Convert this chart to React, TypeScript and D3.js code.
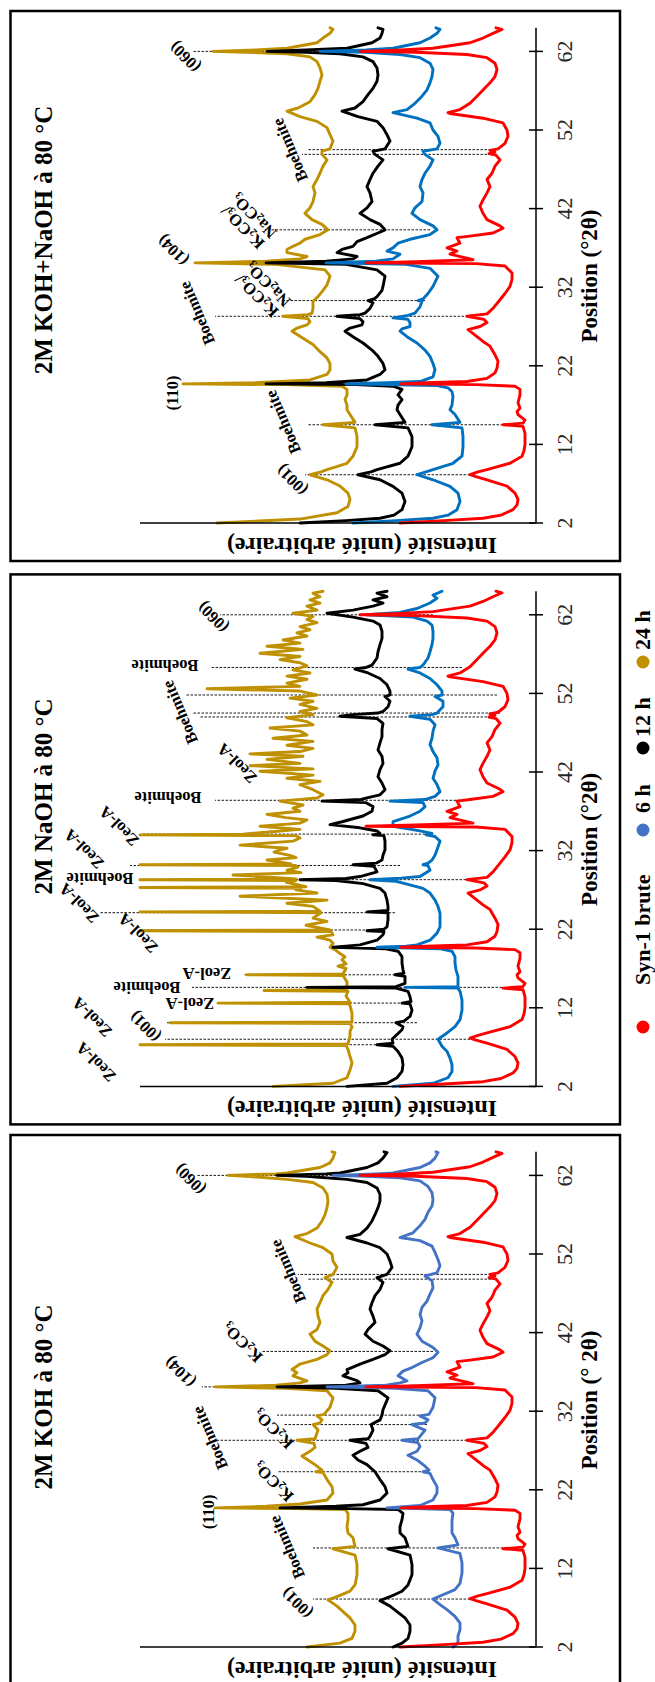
import React from 'react';
import * as d3 from 'd3';

type Pt = [number, number];

const TICKS = [2, 12, 22, 32, 42, 52, 62];
const LEGEND_NAMES = ['Syn-1 brute', '6 h', '12 h', '24 h'];
const I_MAX = 396;

// Syn-1 brute (same raw sample in the three panels)
const syn1Brute: Pt[] = [[2.0,136],[2.3,92],[2.6,53],[3.0,35],[3.7,23],[4.3,19],[5.0,18],[5.8,21],[6.7,29],[7.5,49],[7.9,60],[8.14,66],[8.5,58],[8.8,49],[9.6,26],[10.5,14],[11.2,12],[12.0,11],[13.4,11],[14.3,13],[14.5,33],[14.7,13],[15.1,11],[15.8,18],[16.2,19],[16.6,16],[17.3,18],[18.3,16],[19.0,16],[19.4,21],[19.6,60],[19.7,135],[19.85,110],[20.0,69],[20.4,49],[21.1,41],[21.7,39],[22.6,38],[23.4,41],[24.5,46],[25.1,53],[25.7,59],[26.4,66],[26.6,68],[27.0,56],[27.5,49],[27.9,52],[28.3,69],[28.6,49],[29.3,43],[30.4,36],[31.2,31],[32.1,26],[33.0,24],[33.8,24],[34.7,31],[35.0,60],[35.1,170],[35.25,120],[35.5,63],[36.2,86],[36.6,79],[37.0,89],[37.6,76],[38.3,79],[38.5,66],[38.9,43],[39.5,33],[39.8,36],[40.6,49],[41.4,53],[42.3,56],[43.1,53],[44.0,49],[44.8,46],[45.7,49],[46.5,44],[47.4,41],[48.2,36],[48.8,40],[49.0,47],[49.2,41],[49.4,46],[49.6,38],[50.3,31],[51.2,28],[52.0,29],[52.9,33],[53.5,53],[54.1,86],[54.2,88],[54.6,76],[55.4,66],[56.3,59],[57.1,53],[58.0,46],[58.8,41],[59.7,39],[60.5,41],[61.2,49],[61.6,69],[61.9,120],[62.0,176],[62.15,140],[62.4,103],[63.1,66],[63.7,53],[64.3,43],[64.8,34],[65.0,40]];

// 2M KOH+NaOH
const mix6h: Pt[] = [[2.0,183],[2.3,140],[2.6,103],[3.0,88],[3.7,79],[4.75,76],[5.8,78],[6.66,86],[7.5,103],[8.14,119],[8.5,110],[8.8,103],[9.6,83],[10.5,74],[11.7,73],[13.0,73],[14.1,74],[14.5,104],[14.8,76],[15.8,81],[16.4,86],[17.0,84],[18.1,83],[18.7,84],[19.2,88],[19.5,100],[19.7,190],[19.85,150],[20.0,116],[20.6,103],[21.5,101],[22.3,103],[23.2,106],[24.0,111],[24.9,119],[25.7,129],[26.4,136],[26.7,134],[27.0,126],[27.5,126],[27.9,128],[28.1,143],[28.4,128],[28.7,121],[29.5,116],[30.2,114],[30.3,118],[30.5,113],[31.2,108],[32.1,103],[33.4,98],[34.4,106],[34.9,130],[35.1,210],[35.3,160],[35.6,143],[36.2,136],[36.6,149],[37.0,143],[37.6,138],[38.1,126],[38.7,106],[39.3,99],[39.8,103],[40.6,116],[41.4,124],[42.1,121],[42.9,114],[44.0,113],[44.8,116],[45.7,114],[46.5,111],[47.4,106],[48.2,103],[48.9,111],[49.3,113],[49.6,99],[50.3,96],[51.2,98],[52.0,103],[52.9,106],[53.5,119],[54.2,143],[54.6,129],[55.4,121],[56.3,114],[57.1,109],[58.0,106],[58.8,104],[59.7,103],[60.5,106],[61.2,116],[61.6,136],[61.9,170],[62.0,216],[62.2,170],[62.4,143],[63.1,116],[63.7,106],[64.3,99],[64.8,96],[65.0,100]];
const mix12h: Pt[] = [[2.0,236],[2.3,190],[2.6,156],[3.0,142],[3.7,134],[4.75,131],[5.8,134],[6.66,143],[7.5,156],[8.14,178],[8.5,165],[8.8,159],[9.6,136],[10.5,128],[11.7,124],[13.0,124],[14.1,128],[14.5,161],[14.8,131],[15.8,136],[16.4,139],[17.0,138],[17.7,134],[18.3,138],[19.0,134],[19.4,143],[19.6,180],[19.7,270],[19.85,210],[20.2,169],[20.9,156],[21.5,151],[22.3,153],[23.2,158],[24.0,164],[24.9,173],[25.7,183],[26.4,191],[26.8,186],[27.2,174],[27.6,173],[28.0,176],[28.3,199],[28.5,176],[28.7,171],[29.3,166],[30.0,163],[30.3,168],[30.5,162],[30.8,159],[31.6,154],[32.1,153],[33.4,151],[34.2,159],[34.9,190],[35.1,270],[35.3,210],[35.6,183],[35.9,179],[36.4,199],[36.8,194],[37.2,183],[37.8,179],[38.3,169],[38.9,158],[39.3,151],[40.0,156],[40.6,166],[41.4,176],[42.1,169],[42.9,164],[44.0,166],[44.8,169],[45.7,166],[46.5,163],[47.4,158],[48.2,153],[48.9,161],[49.3,163],[49.6,151],[50.6,146],[51.4,149],[52.3,153],[53.1,159],[53.7,178],[54.4,194],[54.8,181],[55.6,173],[56.5,168],[57.3,163],[58.2,159],[59.0,158],[59.9,159],[60.7,163],[61.3,173],[61.7,196],[61.9,230],[62.0,269],[62.2,230],[62.4,189],[63.1,164],[63.7,156],[64.3,154],[64.8,153],[65.0,158]];
const mix24h: Pt[] = [[2.0,319],[2.5,236],[3.3,199],[4.1,188],[5.0,186],[5.8,188],[6.7,196],[7.5,209],[8.14,226],[8.5,215],[8.8,209],[9.6,189],[10.5,183],[11.7,179],[13.0,179],[14.1,181],[14.5,213],[14.8,181],[15.8,186],[16.4,189],[17.0,189],[17.7,191],[18.3,189],[19.0,189],[19.4,194],[19.6,250],[19.7,353],[19.85,280],[20.2,226],[20.9,209],[21.5,206],[22.3,206],[23.0,209],[23.8,216],[24.7,223],[25.5,233],[26.4,244],[26.8,239],[27.2,229],[27.6,226],[28.0,228],[28.3,253],[28.5,228],[28.7,224],[29.3,223],[30.2,223],[30.8,218],[31.6,213],[32.3,209],[33.4,206],[34.2,211],[34.9,260],[35.1,341],[35.3,270],[35.6,236],[35.9,229],[36.4,249],[36.8,249],[37.2,243],[37.6,236],[38.1,231],[38.7,216],[39.3,208],[40.0,214],[40.6,224],[41.4,231],[42.1,226],[42.9,223],[44.0,221],[44.8,223],[45.7,219],[46.5,216],[47.4,213],[48.2,209],[48.9,214],[49.3,214],[49.6,206],[50.6,203],[51.4,206],[52.3,209],[53.1,219],[53.7,236],[54.4,249],[54.8,238],[55.6,226],[56.5,221],[57.3,218],[58.2,216],[59.0,214],[59.9,216],[60.7,219],[61.3,226],[61.7,249],[61.9,290],[62.0,323],[62.2,280],[62.4,249],[63.1,219],[63.7,213],[64.3,206],[64.8,203],[65.0,206]];

// 2M NaOH
const naoh6h: Pt[] = [[2.0,143],[2.4,103],[3.1,88],[3.9,84],[4.75,84],[5.6,86],[6.45,89],[7.1,94],[8.0,98],[8.8,89],[9.6,81],[10.5,76],[11.7,74],[13.0,74],[14.1,76],[14.5,78],[14.6,131],[14.7,78],[16.0,78],[16.8,80],[17.7,81],[18.5,81],[19.2,84],[19.5,95],[19.7,159],[19.85,130],[20.0,119],[20.6,106],[21.5,99],[22.3,96],[23.2,96],[24.0,96],[24.9,98],[25.7,101],[26.6,106],[27.2,113],[27.8,131],[28.1,140],[28.3,166],[28.5,135],[28.7,116],[29.5,106],[30.1,108],[30.2,113],[30.4,108],[30.8,104],[31.4,101],[32.1,99],[33.2,96],[33.8,101],[34.0,110],[34.2,104],[34.5,116],[35.1,143],[35.7,143],[36.4,126],[37.0,116],[37.6,111],[38.1,113],[38.3,146],[38.5,111],[38.9,101],[39.5,96],[40.4,99],[41.2,103],[42.1,101],[42.9,98],[43.8,99],[44.6,103],[45.5,106],[46.3,104],[47.2,103],[48.0,101],[48.7,106],[49.1,126],[49.3,104],[49.5,99],[50.3,93],[51.0,93],[51.6,101],[51.8,94],[52.3,94],[53.1,99],[53.9,106],[54.6,116],[55.1,128],[55.3,116],[55.6,113],[56.5,108],[57.3,106],[58.2,104],[59.0,103],[59.9,103],[60.7,104],[61.2,109],[61.7,123],[62.0,169],[62.3,136],[62.8,119],[63.5,106],[64.1,99],[64.5,103],[65.0,94]];
const naoh12h: Pt[] = [[2.0,189],[2.4,149],[3.1,139],[3.9,134],[4.75,133],[5.6,134],[6.45,138],[7.1,143],[7.3,159],[7.5,143],[8.0,144],[8.6,139],[9.2,134],[9.6,133],[10.1,140],[10.3,132],[10.9,126],[11.7,124],[12.5,126],[12.6,134],[12.8,125],[13.4,126],[14.1,128],[14.5,140],[14.6,229],[14.7,140],[15.1,131],[16.0,131],[16.2,141],[16.4,132],[16.8,133],[17.7,134],[18.5,134],[19.2,138],[19.5,150],[19.7,203],[19.85,190],[20.0,176],[20.6,159],[21.3,153],[21.7,152],[21.8,169],[22.0,152],[22.3,149],[23.2,148],[24.1,148],[24.2,169],[24.4,148],[24.9,148],[25.7,149],[26.6,151],[27.2,156],[27.8,173],[28.2,200],[28.3,236],[28.45,190],[28.7,176],[29.3,159],[30.0,162],[30.2,183],[30.4,160],[30.8,154],[31.4,153],[32.1,151],[33.2,151],[33.9,152],[34.0,163],[34.2,156],[34.5,159],[34.9,176],[35.3,206],[35.7,193],[36.4,173],[37.0,164],[37.6,163],[38.1,170],[38.3,214],[38.5,175],[38.7,169],[39.1,156],[39.75,151],[40.6,154],[41.4,158],[42.3,156],[43.1,153],[44.0,154],[44.8,158],[45.7,156],[46.5,154],[47.4,154],[48.2,153],[48.8,159],[49.1,196],[49.3,183],[49.5,158],[49.7,153],[50.3,148],[51.0,146],[51.6,151],[51.8,146],[52.3,146],[53.1,149],[53.9,156],[54.6,168],[55.1,181],[55.3,170],[55.6,164],[56.5,159],[57.3,158],[58.2,156],[59.0,154],[59.9,154],[60.7,156],[61.2,163],[61.7,183],[62.2,209],[62.6,183],[63.1,163],[63.5,153],[63.9,163],[64.3,149],[64.75,159],[65.0,149]];
const naoh24h: Pt[] = [[2.0,263],[2.4,203],[3.1,189],[4.1,186],[5.0,184],[5.8,186],[6.7,188],[7.2,190],[7.3,396],[7.4,188],[8.35,186],[9.0,186],[9.6,184],[10.0,186],[10.1,366],[10.2,184],[11.3,184],[12.3,186],[12.5,187],[12.6,318],[12.7,186],[13.5,190],[14.1,188],[14.2,272],[14.3,190],[14.8,189],[15.3,189],[15.9,192],[16.1,192],[16.2,289],[16.3,193],[17.0,190],[17.3,198],[17.6,190],[18.1,194],[18.5,191],[18.9,196],[19.4,201],[19.7,206],[20.2,203],[20.6,206],[21.0,219],[21.3,203],[21.7,205],[21.8,396],[21.9,206],[22.5,230],[23.0,209],[23.4,223],[24.1,215],[24.2,396],[24.3,216],[24.9,223],[25.3,249],[25.7,209],[26.2,296],[26.6,219],[27.0,240],[27.2,235],[27.3,396],[27.4,230],[28.0,250],[28.2,240],[28.3,396],[28.4,240],[28.9,303],[29.2,235],[29.5,249],[29.9,238],[30.1,240],[30.2,396],[30.3,245],[30.8,269],[31.1,240],[31.4,246],[31.8,262],[32.1,256],[32.3,249],[32.7,296],[33.2,243],[33.6,236],[33.9,240],[34.0,396],[34.1,293],[34.7,236],[35.1,276],[35.5,236],[35.9,229],[36.2,250],[36.6,269],[37.0,236],[37.4,243],[37.8,233],[38.3,256],[38.7,219],[39.1,213],[39.75,223],[40.4,236],[40.8,216],[41.2,249],[41.6,223],[42.1,276],[42.4,223],[42.8,286],[43.1,236],[43.6,269],[44.0,233],[44.3,286],[44.6,236],[45.0,223],[45.4,249],[45.9,223],[46.3,263],[46.7,229],[47.2,236],[47.6,266],[48.0,223],[48.4,229],[48.9,249],[49.3,223],[49.7,236],[50.1,219],[50.6,236],[51.0,223],[51.4,246],[51.8,219],[52.3,236],[52.6,329],[52.9,236],[53.3,249],[53.8,229],[54.2,249],[54.6,226],[55.0,243],[55.5,229],[55.9,236],[56.3,256],[56.7,236],[57.1,276],[57.6,233],[58.0,269],[58.4,236],[58.8,253],[59.3,229],[59.7,239],[60.1,226],[60.5,236],[61.0,219],[61.4,229],[61.8,223],[62.2,243],[62.6,219],[63.1,229],[63.5,216],[63.9,226],[64.3,216],[64.75,223],[65.0,213]];

// 2M KOH
const koh6h: Pt[] = [[2.0,83],[2.5,78],[3.4,78],[4.2,76],[5.05,76],[5.9,81],[6.75,89],[7.4,96],[8.1,103],[8.65,93],[9.3,81],[10.1,76],[11.4,74],[12.7,74],[13.9,76],[14.6,98],[15.0,78],[15.9,81],[16.5,84],[17.3,84],[18.2,84],[19.0,83],[19.5,86],[19.6,120],[19.7,149],[20.0,116],[20.7,103],[21.6,99],[22.4,99],[23.3,103],[24.1,106],[24.3,113],[24.5,107],[25.0,111],[25.8,119],[26.4,128],[26.9,119],[27.5,116],[28.0,118],[28.3,134],[28.5,118],[28.8,116],[29.6,111],[30.3,124],[30.5,111],[30.9,108],[31.4,116],[31.6,107],[32.5,103],[33.7,101],[34.6,108],[34.9,140],[35.1,209],[35.3,150],[35.6,136],[35.85,129],[36.5,138],[37.1,133],[37.55,124],[38.2,114],[38.8,103],[39.5,98],[40.1,103],[40.9,114],[41.8,119],[42.6,116],[43.5,114],[44.3,116],[45.2,114],[46.0,109],[46.9,106],[47.7,103],[48.6,104],[49.2,111],[49.6,99],[50.5,96],[51.3,98],[52.2,101],[53.0,104],[53.7,116],[54.1,136],[54.7,123],[55.6,116],[56.4,111],[57.3,108],[58.1,104],[58.9,103],[59.8,104],[60.6,108],[61.3,116],[61.7,136],[61.9,170],[62.0,203],[62.2,160],[62.3,143],[63.0,116],[63.6,106],[64.2,101],[64.9,98],[65.0,100]];
const koh12h: Pt[] = [[2.0,143],[2.5,134],[3.1,128],[4.0,126],[4.8,126],[5.7,131],[6.5,139],[7.2,146],[7.9,156],[8.4,146],[9.1,134],[9.9,128],[11.2,124],[12.5,124],[13.7,126],[14.5,148],[14.8,128],[15.9,131],[16.5,136],[17.3,136],[18.2,134],[19.0,133],[19.5,138],[19.6,190],[19.7,256],[19.9,200],[20.1,173],[20.7,156],[21.6,149],[22.4,151],[23.3,156],[24.3,161],[25.2,169],[25.8,178],[26.4,183],[26.9,176],[27.4,168],[27.9,170],[28.3,186],[28.5,168],[28.8,166],[29.6,163],[30.3,165],[30.9,156],[31.5,154],[32.2,153],[33.7,148],[34.6,158],[34.9,200],[35.1,259],[35.3,190],[35.6,176],[35.9,179],[36.5,193],[36.9,188],[37.3,189],[38.0,176],[38.6,163],[39.2,151],[39.7,146],[40.3,153],[40.9,163],[41.8,171],[42.4,168],[43.3,161],[44.1,163],[45.0,166],[45.8,164],[46.7,161],[47.5,156],[48.4,153],[49.0,159],[49.4,149],[50.3,144],[51.1,146],[52.0,149],[52.8,156],[53.4,169],[54.1,189],[54.5,176],[55.3,169],[56.2,164],[57.0,161],[57.9,158],[58.7,156],[59.6,156],[60.4,159],[61.1,169],[61.5,189],[61.9,230],[62.0,259],[62.2,210],[62.3,196],[63.0,169],[63.6,158],[64.2,153],[64.9,149],[65.0,152]];
const koh24h: Pt[] = [[2.0,229],[2.5,196],[3.1,184],[4.0,181],[4.8,181],[5.7,186],[6.5,193],[7.2,199],[8.0,208],[8.4,199],[9.1,186],[9.9,181],[11.2,179],[12.5,179],[13.7,181],[14.5,203],[14.8,181],[15.9,183],[16.5,188],[17.3,189],[18.2,188],[19.0,188],[19.5,191],[19.6,240],[19.7,321],[19.9,270],[20.2,236],[20.7,209],[21.6,203],[22.4,204],[23.3,209],[24.2,213],[24.3,220],[24.5,214],[25.2,221],[25.8,228],[26.3,234],[26.9,226],[27.4,221],[27.9,222],[28.3,239],[28.5,221],[29.6,218],[30.3,223],[30.5,216],[30.9,214],[31.4,219],[31.6,212],[32.5,206],[33.7,203],[34.6,209],[34.9,250],[35.1,321],[35.3,260],[35.6,236],[35.85,229],[36.5,243],[36.9,239],[37.3,244],[38.0,236],[38.6,219],[39.2,209],[39.7,206],[40.3,213],[40.9,221],[41.8,226],[42.4,219],[43.3,216],[44.1,218],[45.0,219],[45.8,216],[46.7,213],[47.5,208],[48.4,204],[49.0,211],[49.4,203],[50.3,199],[51.1,203],[52.0,204],[52.8,213],[53.4,226],[54.2,241],[54.6,229],[55.3,219],[56.2,214],[57.0,211],[57.9,209],[58.7,208],[59.6,209],[60.4,213],[61.1,223],[61.5,249],[61.9,290],[62.0,308],[62.2,260],[62.3,249],[63.0,216],[63.6,206],[64.2,203],[64.9,201],[65.0,204]];

type Lab = { text: string[]; t: number; v: number; o: 'diag' | 'vert' | 'slant' | 'flip'; chem?: boolean };

const mixLabels: Lab[] = [
  { text: ['(001)'], t: 7.47, v: 244, o: 'diag' },
  { text: ['Boehmite'], t: 14.85, v: 253, o: 'slant' },
  { text: ['(110)'], t: 18.54, v: 364, o: 'vert' },
  { text: ['Boehmite'], t: 28.7, v: 339, o: 'slant' },
  { text: ['K2CO3/', 'Na2CO3'], t: 31.6, v: 274, o: 'diag', chem: true },
  { text: ['(104)'], t: 36.7, v: 363, o: 'diag' },
  { text: ['K2CO3/', 'Na2CO3'], t: 40.3, v: 288, o: 'diag', chem: true },
  { text: ['Boehmite'], t: 49.45, v: 246, o: 'slant' },
  { text: ['(060)'], t: 61.3, v: 351, o: 'diag' },
];
const mixGuides: [number, number, number][] = [[8.14,66,231],[14.5,21,229],[28.3,68,321],[30.3,111,254],[35.1,136,341],[39.3,106,271],[48.9,41,234],[49.5,41,228],[62.0,136,344]];

const naohLabels: Lab[] = [
  { text: ['Zeol-A'], t: 5.1, v: 440, o: 'diag' },
  { text: ['(001)'], t: 9.6, v: 391, o: 'diag' },
  { text: ['Zeol-A'], t: 10.8, v: 444, o: 'diag' },
  { text: ['Zeol-A'], t: 12.5, v: 346, o: 'flip' },
  { text: ['Boehmite'], t: 14.6, v: 389, o: 'flip' },
  { text: ['Zeol-A'], t: 16.4, v: 329, o: 'flip' },
  { text: ['Zeol-A'], t: 21.5, v: 398, o: 'diag' },
  { text: ['Zeol-A'], t: 25.3, v: 457, o: 'diag' },
  { text: ['Boehmite'], t: 28.4, v: 436, o: 'flip' },
  { text: ['Zeol-A'], t: 32.2, v: 452, o: 'diag' },
  { text: ['Zeol-A'], t: 35.1, v: 417, o: 'diag' },
  { text: ['Boehmite'], t: 38.7, v: 368, o: 'flip' },
  { text: ['Zeol-A'], t: 43.1, v: 299, o: 'diag' },
  { text: ['Boehmite'], t: 49.6, v: 356, o: 'slant' },
  { text: ['Boehmite'], t: 55.5, v: 371, o: 'flip' },
  { text: ['(060)'], t: 61.7, v: 323, o: 'diag' },
];
const naohGuides: [number, number, number][] = [[7.3,156,396],[8.0,66,371],[10.1,119,369],[12.6,136,316],[14.6,34,344],[16.2,141,293],[21.9,163,389],[24.1,141,436],[28.3,66,391],[30.1,136,406],[34.1,103,393],[38.4,68,321],[49.0,41,336],[49.5,36,343],[51.8,39,351],[55.3,74,326],[62.0,103,316]];

const kohLabels: Lab[] = [
  { text: ['(001)'], t: 7.6, v: 239, o: 'diag' },
  { text: ['Boehmite'], t: 14.7, v: 249, o: 'slant' },
  { text: ['(110)'], t: 19.2, v: 328, o: 'vert' },
  { text: ['K2CO3'], t: 23.0, v: 263, o: 'diag', chem: true },
  { text: ['Boehmite'], t: 28.6, v: 326, o: 'slant' },
  { text: ['K2CO3'], t: 29.7, v: 263, o: 'diag', chem: true },
  { text: ['(104)'], t: 37.0, v: 356, o: 'diag' },
  { text: ['K2CO3'], t: 40.7, v: 294, o: 'diag', chem: true },
  { text: ['Boehmite'], t: 49.8, v: 248, o: 'slant' },
  { text: ['(060)'], t: 61.5, v: 346, o: 'diag' },
];
const kohGuides: [number, number, number][] = [[8.1,66,223],[14.6,13,223],[24.3,111,258],[28.3,69,319],[30.3,109,253],[31.5,109,259],[35.1,129,334],[39.6,103,274],[48.8,41,229],[49.4,41,238],[62.0,136,339]];

const RED = '#FF0000', BLUE = '#0070C0', BLUE2 = '#4472C4', BLACK = '#000000', GOLD = '#BF9000';
const ANGLE: Record<string, number> = { diag: -135, vert: -90, slant: -113, flip: 180 };
const FONT = "'Liberation Serif', 'Times New Roman', serif";

const panels = [
  { title: '2M KOH+NaOH à 80 °C', xlabel: 'Position (°2θ)', oy: 0, titleY: 240, series: [mix24h, mix12h, mix6h, syn1Brute], colors: [GOLD, BLACK, BLUE, RED], labels: mixLabels, guides: mixGuides },
  { title: '2M NaOH à 80 °C', xlabel: 'Position (°2θ)', oy: 563.4, titleY: 233, series: [naoh24h, naoh12h, naoh6h, syn1Brute], colors: [GOLD, BLACK, BLUE, RED], labels: naohLabels, guides: naohGuides },
  { title: '2M KOH à 80 °C', xlabel: 'Position (° 2θ)', oy: 1124, titleY: 273, series: [koh24h, koh12h, koh6h, syn1Brute], colors: [GOLD, BLACK, BLUE2, RED], labels: kohLabels, guides: kohGuides },
];

function Chem({ s }: { s: string }) {
  const parts = s.split(/(\d)/).filter((p) => p !== '');
  let sub = false;
  return (
    <>
      {parts.map((p, i) => {
        const isDigit = /^\d$/.test(p);
        let dy = 0;
        if (isDigit && !sub) dy = 4;
        if (!isDigit && sub) dy = -4;
        sub = isDigit;
        return (
          <tspan key={i} dy={dy} fontSize={isDigit ? 11 : undefined}>{p}</tspan>
        );
      })}
    </>
  );
}

export default function App() {
  const W = 655, H = 1682;
  const iScale = d3.scaleLinear().domain([0, I_MAX]).range([536, 140]);
  const legendItems = [
    { name: LEGEND_NAMES[0], color: RED, dotY: 1027, textY: 985 },
    { name: LEGEND_NAMES[1], color: BLUE2, dotY: 830, textY: 813 },
    { name: LEGEND_NAMES[2], color: BLACK, dotY: 748, textY: 737 },
    { name: LEGEND_NAMES[3], color: GOLD, dotY: 662, textY: 650 },
  ];
  return (
    <svg width={W} height={H} style={{ position: 'absolute', left: 0, top: 0, display: 'block' }} fontFamily={FONT}>
      <rect width={W} height={H} fill="#fff" />
      {panels.map((p, pi) => {
        const oy = p.oy;
        const tScale = d3.scaleLinear().domain([2, 62]).range([523 + oy, 51.4 + oy]);
        const line = d3.line<Pt>().x((d) => iScale(d[1])).y((d) => tScale(d[0]));
        const axisX = iScale(0);
        return (
          <g key={pi}>
            <rect x={10.5} y={oy + 11} width={609.5} height={550} fill="none" stroke="#000" strokeWidth={2.5} />
            <text transform={`translate(52, ${oy + p.titleY}) rotate(-90)`} textAnchor="middle" fontSize={25} fontWeight="bold">{p.title}</text>
            {p.guides.map((g, gi) => (
              <line key={gi} x1={iScale(g[1])} x2={iScale(g[2])} y1={tScale(g[0])} y2={tScale(g[0])} stroke="#000" strokeWidth={0.9} strokeDasharray="2.5,1.5" />
            ))}
            {p.series.map((s, si) => (
              <path key={si} d={line(s) || ''} fill="none" stroke={p.colors[si]} strokeWidth={2.9} strokeLinejoin="round" strokeLinecap="round" />
            ))}
            <line x1={axisX} x2={axisX} y1={tScale(2)} y2={tScale(65)} stroke="#000" strokeWidth={1.5} />
            <line x1={iScale(I_MAX)} x2={axisX} y1={tScale(2)} y2={tScale(2)} stroke="#000" strokeWidth={1.5} />
            {TICKS.map((t) => (
              <g key={t}>
                <line x1={axisX - 7} x2={axisX + 7} y1={tScale(t)} y2={tScale(t)} stroke="#000" strokeWidth={1.5} />
                <text transform={`translate(572, ${tScale(t)}) rotate(-90)`} textAnchor="middle" fontSize={22} fill="#262626">{t}</text>
              </g>
            ))}
            <text transform={`translate(597, ${oy + 276}) rotate(-90)`} textAnchor="middle" fontSize={23} fontWeight="bold">{p.xlabel}</text>
            <text transform={`translate(362, ${oy + 538}) rotate(180)`} textAnchor="middle" fontSize={24} fontWeight="bold">Intensité (unité arbitraire)</text>
            {p.labels.map((l, li) => {
              const x = iScale(l.v);
              const y = tScale(l.t);
              const n = l.text.length;
              return (
                <g key={li} transform={`translate(${x}, ${y}) rotate(${ANGLE[l.o]})`}>
                  {l.text.map((s, k) => (
                    <text key={k} x={0} y={(k - (n - 1) / 2) * 16} textAnchor="middle" dominantBaseline="central" fontSize={16.5} fontWeight="bold">
                      {l.chem ? <Chem s={s} /> : s}
                    </text>
                  ))}
                </g>
              );
            })}
          </g>
        );
      })}
      {legendItems.map((it, i) => (
        <g key={i}>
          <circle cx={643} cy={it.dotY} r={6.5} fill={it.color} />
          <text transform={`translate(650, ${it.textY}) rotate(-90)`} textAnchor="start" fontSize={22} fontWeight="bold">{it.name}</text>
        </g>
      ))}
    </svg>
  );
}
